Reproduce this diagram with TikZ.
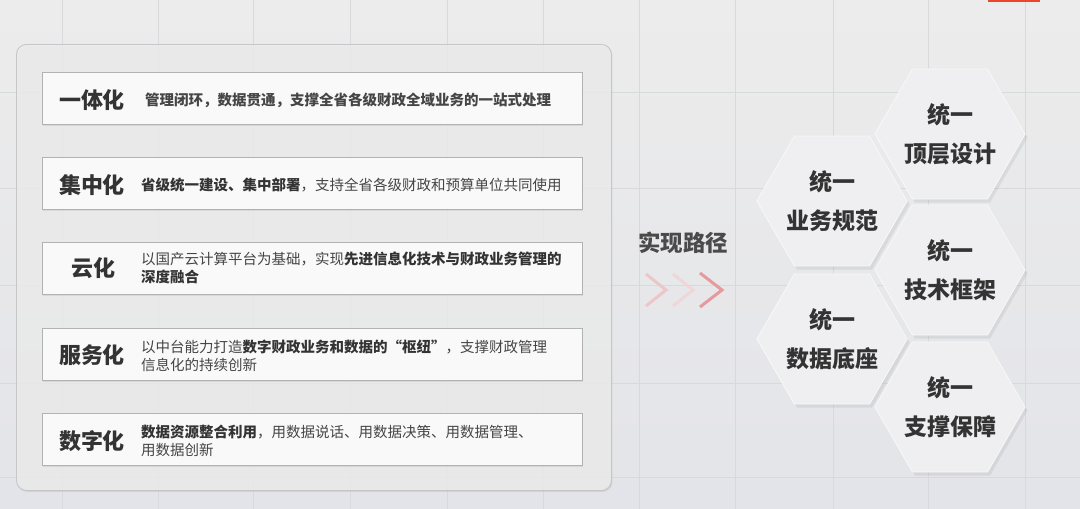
\documentclass[tikz,border=0pt]{standalone}
\usepackage{fontspec}
\setmainfont{Noto Sans CJK SC}
\usetikzlibrary{shadows,shapes.geometric,calc}
\definecolor{bgtop}{HTML}{ECECEC}
\definecolor{bgbot}{HTML}{E3E4E9}
\definecolor{gridc}{HTML}{D8D9DC}
\definecolor{panelfill}{HTML}{EFEFEF}
\definecolor{paneldraw}{HTML}{C6C6C8}
\definecolor{boxfill}{HTML}{FCFCFC}
\definecolor{boxdraw}{HTML}{B2B2B2}
\definecolor{txtdark}{HTML}{333333}
\definecolor{txtmid}{HTML}{454545}
\definecolor{txtlbl}{HTML}{4A4A4A}
\definecolor{hexfill}{HTML}{EFEFF1}
\definecolor{chevA}{HTML}{ECC6C8}
\definecolor{chevB}{HTML}{EFD7D9}
\definecolor{chevC}{HTML}{E69A9E}
\definecolor{redbar}{HTML}{E8472A}
\tikzset{
  gridline/.style={draw=gridc, line width=0.7},
  panelbox/.style={rectangle, rounded corners=10, fill=panelfill, fill opacity=0.78,
    draw=paneldraw, line width=0.9, minimum width=595, minimum height=446, anchor=north west,
    drop shadow={opacity=0.18, shadow xshift=1pt, shadow yshift=-1.5pt}},
  itembox/.style={rectangle, fill=boxfill, fill opacity=0.93, draw=boxdraw, line width=0.9,
    minimum width=540, minimum height=52, anchor=north west, inner sep=0,
    drop shadow={opacity=0.16, shadow xshift=0.6pt, shadow yshift=-1.6pt}},
  itemtitle/.style={text=txtdark, font=\fontsize{22}{26}\selectfont\bfseries, inner sep=0},
  itemdesc/.style={text=txtmid, font=\fontsize{14.5}{18}\selectfont, align=left, anchor=west, inner sep=0},
  hexa/.style={regular polygon, regular polygon sides=6, minimum size=150, inner sep=0,
    fill=hexfill, draw=white!55!hexfill, line width=0.8,
    drop shadow={opacity=0.14, shadow xshift=2.5pt, shadow yshift=-3.5pt},
    text=txtdark, font=\fontsize{23}{39}\selectfont\bfseries, align=center},
  chevline/.style={line width=3, line join=miter},
}
\begin{document}
\begin{tikzpicture}[x=1pt,y=-1pt]
\useasboundingbox (0,0) rectangle (1080,509);
\shade[top color=bgtop, bottom color=bgbot] (0,0) rectangle (1080,509);
% background grid
\foreach \gx in {62,158,253,350,447,543,639,735,833,928,1025}
  \draw[gridline] (\gx,0) -- (\gx,509);
\foreach \gy in {92,188,285,383,477}
  \draw[gridline] (0,\gy) -- (1080,\gy);
% red mark at top
\fill[redbar] (988,0) rectangle (1040,2);

% left panel
\node[panelbox] (panel) at (16,44) {};

% items
\node[itembox] (b1) at (42,72) {};
\node[itembox] (b2) at (42,157) {};
\node[itembox] (b3) at (42,242) {};
\node[itembox] (b4) at (42,328) {};
\node[itembox] (b5) at (42,413) {};

\node[itemtitle] (t1) at (92,100) {一体化};
\node[itemtitle] (t2) at (92,185) {集中化};
\node[itemtitle] (t3) at (93,268) {云化};
\node[itemtitle] (t4) at (92,355) {服务化};
\node[itemtitle] (t5) at (92,441) {数字化};

\node[itemdesc, text=txtmid] (d1) at (145,100) {\bfseries 管理闭环，数据贯通，支撑全省各级财政全域业务的一站式处理};
\node[itemdesc] (d2) at (141,185) {\textbf{\color{txtdark}省级统一建设、集中部署}，支持全省各级财政和预算单位共同使用};
\node[itemdesc] (d3) at (141,268) {以国产云计算平台为基础，实现\textbf{\color{txtdark}先进信息化技术与财政业务管理的}\\\textbf{\color{txtdark}深度融合}};
\node[itemdesc] (d4) at (141,356) {以中台能力打造\textbf{\color{txtdark}数字财政业务和数据的“枢纽”}，支撑财政管理\\信息化的持续创新};
\node[itemdesc] (d5) at (141,441) {\textbf{\color{txtdark}数据资源整合利用}，用数据说话、用数据决策、用数据管理、\\用数据创新};

% path label and chevrons
\node[text=txtlbl, font=\fontsize{22.5}{26}\selectfont\bfseries, inner sep=0] (path) at (683,243) {实现路径};
\coordinate (c1) at (666,290);
\coordinate (c2) at (693,290);
\coordinate (c3) at (722,290);
\draw[chevline, draw=chevA] ($(c1)+(-20,-16)$) -- (c1) -- ($(c1)+(-20,16)$);
\draw[chevline, draw=chevB] ($(c2)+(-20,-16)$) -- (c2) -- ($(c2)+(-20,16)$);
\draw[chevline, draw=chevC] ($(c3)+(-22,-17)$) -- (c3) -- ($(c3)+(-22,17)$);

% hexagons
\node[hexa] (h1) at (950,134) {统一\\顶层设计};
\node[hexa] (h2) at (832,201) {统一\\业务规范};
\node[hexa] (h3) at (950,270) {统一\\技术框架};
\node[hexa] (h4) at (832,339) {统一\\数据底座};
\node[hexa] (h5) at (950,407) {统一\\支撑保障};
\end{tikzpicture}
\end{document}
